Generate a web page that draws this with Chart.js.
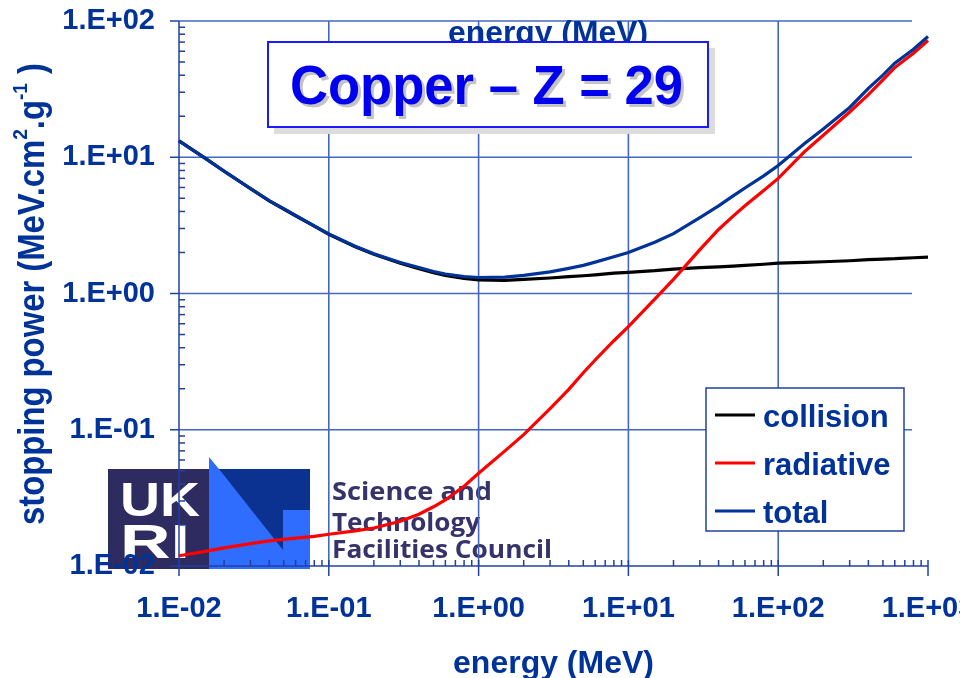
<!DOCTYPE html>
<html><head><meta charset="utf-8">
<script src="https://cdn.jsdelivr.net/npm/chart.js@4.4.1/dist/chart.umd.min.js"></script>
<style>html,body{margin:0;padding:0;background:#fff;overflow:hidden}#wrap{position:relative;width:960px;height:678px}</style>
</head><body><div id="wrap"><canvas id="c"></canvas></div>
<script>
// ---- data ----
const energy = [0.01,0.015,0.02,0.03,0.04,0.05,0.06,0.08,0.1,0.15,0.2,0.3,0.4,0.5,0.6,0.8,1,1.5,2,3,4,5,6,8,10,15,20,30,40,50,60,80,100,150,200,300,400,500,600,800,1000];
const collision = [13.2,9.8,7.9,5.88,4.78,4.17,3.72,3.12,2.72,2.2,1.94,1.67,1.52,1.42,1.36,1.29,1.26,1.25,1.27,1.30,1.33,1.35,1.37,1.41,1.43,1.47,1.51,1.55,1.57,1.59,1.61,1.64,1.67,1.69,1.71,1.74,1.77,1.79,1.80,1.83,1.85];
const radiative = [0.0119,0.0128,0.0136,0.0146,0.0153,0.0157,0.0160,0.0165,0.0171,0.0181,0.0190,0.0213,0.0240,0.0272,0.0305,0.0385,0.0479,0.0700,0.092,0.143,0.198,0.262,0.325,0.45,0.571,0.91,1.27,2.1,2.95,3.7,4.4,5.7,7.0,11.0,14.5,21.5,28.8,37,45.5,58,72];
const total = [13.2,9.81,7.91,5.9,4.8,4.19,3.74,3.14,2.74,2.22,1.96,1.69,1.55,1.45,1.39,1.33,1.31,1.32,1.36,1.44,1.53,1.61,1.70,1.86,2.0,2.38,2.75,3.6,4.4,5.2,5.95,7.3,8.7,12.6,16.1,23.2,32,40,49,62,77];
const seriesNames = ['collision','radiative','total'];
const xTickValues = [0.01,0.1,1,10,100,1000];
const xTickLabels = ['1.E-02','1.E-01','1.E+00','1.E+01','1.E+02','1.E+03'];
const yTickValues = [0.01,0.1,1,10,100];
const yTickLabels = ['1.E-02','1.E-01','1.E+00','1.E+01','1.E+02'];
const chartTitle = 'Copper \u2013 Z = 29';
const xTitle = 'energy (MeV)';
const yTitleParts = [['stopping power (MeV.cm',false],['2',true],['.g',false],['-1',true],[' )',false]];
const logoLines = ['Science and','Technology','Facilities Council'];

// ---- styles ----
const FONT = '"Liberation Sans", Arial, Helvetica, sans-serif';
const TEXT = '#003399';
const GRID = '#4467c0';
const AXIS = '#21419f';
const COLORS = ['#000000','#ff0000','#003399'];

function fitText(ctx, text, x, y, width){
  const w = ctx.measureText(text).width;
  ctx.save(); ctx.translate(x, y); ctx.scale(width / w, 1);
  ctx.textAlign = 'left'; ctx.fillText(text, 0, 0); ctx.restore();
}

function drawLogo(ctx){
  ctx.save();
  ctx.fillStyle = '#2d2b5f';
  ctx.fillRect(108, 469, 102, 100);
  ctx.fillStyle = '#2f6dff';
  ctx.beginPath(); ctx.moveTo(209,457); ctx.lineTo(219,469); ctx.lineTo(310,469); ctx.lineTo(310,569); ctx.lineTo(209,569); ctx.closePath(); ctx.fill();
  ctx.fillStyle = '#0b3290';
  ctx.beginPath(); ctx.moveTo(219,469); ctx.lineTo(310,469); ctx.lineTo(310,510); ctx.lineTo(283,510); ctx.lineTo(283,550); ctx.closePath(); ctx.fill();
  ctx.fillStyle = '#ffffff';
  ctx.font = 'bold 48px ' + FONT;
  ctx.textBaseline = 'alphabetic';
  fitText(ctx, 'UK', 120, 516, 80);
  fitText(ctx, 'RI', 120, 558, 70);
  ctx.fillStyle = '#36336a';
  ctx.font = 'bold 25px "Open Sans", ' + FONT;
  fitText(ctx, logoLines[0], 332, 500, 160);
  fitText(ctx, logoLines[1], 332, 531, 148);
  fitText(ctx, logoLines[2], 332, 558, 220);
  ctx.restore();
}

const decor = {
  id: 'decor',
  beforeDraw(chart){ drawLogo(chart.ctx); },
  beforeDatasetsDraw(chart){
    const ctx = chart.ctx, xs = chart.scales.x, ys = chart.scales.y, a = chart.chartArea;
    ctx.save();
    ctx.strokeStyle = GRID; ctx.lineWidth = 1.6;
    yTickValues.forEach(v => {
      if (v === yTickValues[0]) return;
      const py = ys.getPixelForValue(v);
      ctx.beginPath(); ctx.moveTo(a.left, py); ctx.lineTo(a.right - 16, py); ctx.stroke();
    });
    xTickValues.forEach((v, i) => {
      if (i === 0 || i === xTickValues.length - 1) return;
      const px = xs.getPixelForValue(v);
      ctx.beginPath(); ctx.moveTo(px, a.top); ctx.lineTo(px, a.bottom); ctx.stroke();
    });
    ctx.strokeStyle = AXIS; ctx.lineWidth = 1.5;
    ctx.beginPath(); ctx.moveTo(a.left, a.top); ctx.lineTo(a.left, a.bottom); ctx.lineTo(a.right, a.bottom); ctx.stroke();
    yTickValues.forEach((v, i) => {
      const py = ys.getPixelForValue(v);
      ctx.beginPath(); ctx.moveTo(a.left - 9, py); ctx.lineTo(a.left, py); ctx.stroke();
      if (i < yTickValues.length - 1) {
        for (let k = 2; k <= 9; k++) {
          const p = ys.getPixelForValue(v * k);
          ctx.beginPath(); ctx.moveTo(a.left, p); ctx.lineTo(a.left + 6, p); ctx.stroke();
        }
      }
    });
    xTickValues.forEach((v, i) => {
      const px = xs.getPixelForValue(v);
      ctx.beginPath(); ctx.moveTo(px, a.bottom - 6); ctx.lineTo(px, a.bottom + 10); ctx.stroke();
      if (i < xTickValues.length - 1) {
        for (let k = 2; k <= 9; k++) {
          const p = xs.getPixelForValue(v * k);
          ctx.beginPath(); ctx.moveTo(p, a.bottom - 6); ctx.lineTo(p, a.bottom); ctx.stroke();
        }
      }
    });
    ctx.restore();
  },
  afterDraw(chart){
    const ctx = chart.ctx;
    ctx.save();
    ctx.fillStyle = TEXT; ctx.font = 'bold 31px ' + FONT; ctx.textBaseline = 'alphabetic';
    fitText(ctx, xTitle, 448, 43, 200);
    ctx.fillStyle = '#dcdcdc'; ctx.fillRect(274, 48, 441, 86);
    ctx.fillStyle = '#ffffff'; ctx.fillRect(268, 42, 440, 85);
    ctx.strokeStyle = '#1a1aff'; ctx.lineWidth = 2; ctx.strokeRect(268, 42, 440, 85);
    ctx.font = 'bold 55px ' + FONT;
    ctx.fillStyle = '#c4c4c4'; fitText(ctx, chartTitle, 293, 107, 393);
    ctx.fillStyle = '#0000ee'; fitText(ctx, chartTitle, 290, 104, 393);
    ctx.fillStyle = '#ffffff'; ctx.fillRect(706, 388, 198, 143);
    ctx.strokeStyle = AXIS; ctx.lineWidth = 1.5; ctx.strokeRect(706, 388, 198, 143);
    ctx.font = 'bold 31px ' + FONT;
    chart.data.datasets.forEach((ds, i) => {
      const y = 415 + i * 48;
      ctx.strokeStyle = ds.borderColor; ctx.lineWidth = 3;
      ctx.beginPath(); ctx.moveTo(715, y); ctx.lineTo(755, y); ctx.stroke();
      ctx.fillStyle = TEXT; ctx.textAlign = 'left'; ctx.fillText(ds.label, 763, y + 12);
    });
    const main = 'bold 36px ' + FONT, sup = 'bold 21px ' + FONT;
    let tw = 0;
    const ws = yTitleParts.map(p => { ctx.font = p[1] ? sup : main; const w = ctx.measureText(p[0]).width; tw += w; return w; });
    ctx.translate(44, 525); ctx.rotate(-Math.PI / 2); ctx.scale(462 / tw, 1);
    ctx.fillStyle = TEXT; ctx.textAlign = 'left';
    let x = 0;
    yTitleParts.forEach((p, i) => { ctx.font = p[1] ? sup : main; ctx.fillText(p[0], x, p[1] ? -17 : 0); x += ws[i]; });
    ctx.restore();
  }
};

const mk = arr => energy.map((e, i) => ({x: e, y: arr[i]}));
const seriesData = [collision, radiative, total];
const orders = [2, 1, 0];

new Chart(document.getElementById('c'), {
  type: 'line',
  data: {
    datasets: seriesNames.map((n, i) => ({
      label: n, data: mk(seriesData[i]), borderColor: COLORS[i], backgroundColor: COLORS[i],
      borderWidth: 3.2, pointRadius: 0, tension: 0, fill: false, order: orders[i], clip: false
    }))
  },
  options: {
    responsive: true, maintainAspectRatio: false, animation: false, devicePixelRatio: 1,
    layout: { padding: { top: 21, right: 32, bottom: 0, left: 0 } },
    plugins: { legend: { display: false }, tooltip: { enabled: false } },
    scales: {
      x: {
        type: 'logarithmic', position: 'bottom', min: 0.01, max: 1000,
        afterBuildTicks: s => { s.ticks = xTickValues.map(v => ({ value: v })); },
        afterFit: s => { s.height = 112; s.paddingLeft = 0; s.paddingRight = 0; },
        grid: { display: false, drawTicks: false }, border: { display: false },
        ticks: { autoSkip: false, maxRotation: 0, minRotation: 0, padding: 26, color: TEXT,
          font: { family: FONT, size: 29, weight: 'bold' }, callback: (v, i) => xTickLabels[i] },
        title: { display: true, text: xTitle, color: TEXT, padding: { top: 0, bottom: -5 },
          font: { family: FONT, size: 32, weight: 'bold' } }
      },
      y: {
        type: 'logarithmic', position: 'left', min: 0.01, max: 100,
        afterBuildTicks: s => { s.ticks = yTickValues.map(v => ({ value: v })); },
        afterFit: s => { s.width = 179; s.paddingTop = 0; s.paddingBottom = 0; },
        grid: { display: false, drawTicks: false }, border: { display: false },
        ticks: { padding: 24, color: TEXT, font: { family: FONT, size: 29, weight: 'bold' },
          callback: (v, i) => yTickLabels[i] }
      }
    }
  },
  plugins: [decor]
});
</script></body></html>
